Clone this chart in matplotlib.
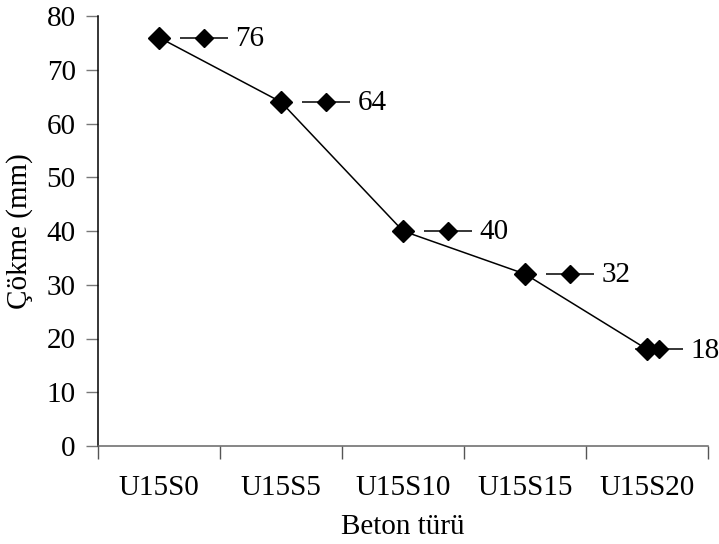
import matplotlib
matplotlib.use("Agg")
import matplotlib.pyplot as plt
from matplotlib.transforms import offset_copy
import numpy as np

plt.rcParams['font.family'] = ['Liberation Serif', 'DejaVu Serif']

categories = ['U15S0', 'U15S5', 'U15S10', 'U15S15', 'U15S20']
slump = [76, 64, 40, 32, 18]
# horizontal shift of each data label (points); the last one is pulled back inside the frame
label_shift = [0, 0, 0, 0, -24]

fs = 21

fig = plt.figure(figsize=(7.19, 5.44), dpi=100)
ax = fig.add_axes([98 / 719, 1 - 446 / 544, 610 / 719, 430 / 544])

x = np.arange(len(categories)) + 0.5
ax.plot(x, slump, color='black', lw=1.1, marker='D', ms=11,
        mfc='black', mec='black', zorder=3)

# data labels with a small legend key in front of the value
for xi, yi, s in zip(x, slump, label_shift):
    tr = offset_copy(ax.transData, fig=fig, x=32.5 + s, y=0, units='points')
    ax.plot([xi], [yi], marker='_', ms=34.5, mew=1.1, color='black',
            transform=tr, clip_on=False, zorder=4)
    ax.plot([xi], [yi], marker='D', ms=9, color='black',
            transform=tr, clip_on=False, zorder=5)
    ax.annotate(str(yi), (xi, yi), xytext=(55 + s, -1), textcoords='offset points',
                ha='left', va='center', fontsize=fs, annotation_clip=False)

ax.set_xlim(0, len(categories))
ax.set_ylim(0, 80)
ax.set_yticks(np.arange(0, 81, 10))
ax.set_xticks(np.arange(len(categories) + 1))
ax.set_xticklabels([])
ax.set_xticks(x, minor=True)
ax.set_xticklabels(categories, minor=True, fontsize=fs)

ax.spines['top'].set_visible(False)
ax.spines['right'].set_visible(False)
ax.spines['left'].set_color('black')
ax.spines['bottom'].set_color('#666666')
ax.spines['left'].set_linewidth(1.1)
ax.spines['bottom'].set_linewidth(1.1)

ax.tick_params(axis='y', direction='out', length=9, width=1, color='#777777',
               labelsize=fs, pad=7)
ax.tick_params(axis='x', which='major', direction='out', length=9, width=1,
               color='#555555')
ax.tick_params(axis='x', which='minor', length=0, pad=21)

ax.set_xlabel('Beton türü', fontsize=fs, labelpad=9)
ax.set_ylabel('Çökme (mm)', fontsize=fs, labelpad=10)

fig.savefig('out.png', dpi=100)
